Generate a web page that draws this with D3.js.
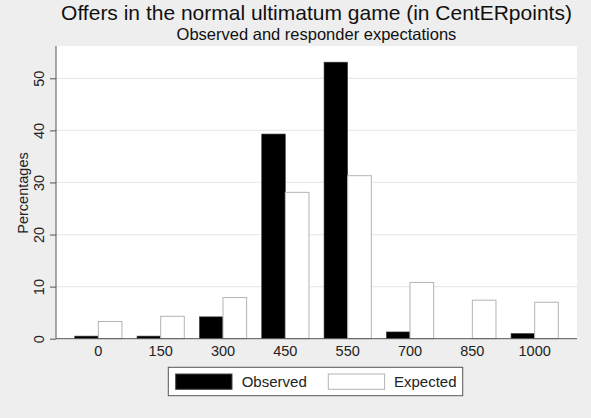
<!DOCTYPE html>
<html><head><meta charset="utf-8">
<script src="https://cdn.jsdelivr.net/npm/d3@7"></script>
<style>body{margin:0;background:#eeeeee}svg{display:block}text{font-family:"Liberation Sans",Arial,sans-serif}</style>
</head><body><svg id="c" width="591" height="418"></svg>
<script>
const categories = ["0","150","300","450","550","700","850","1000"];
const observed = [0.5, 0.5, 4.2, 39.3, 53.1, 1.3, 0, 1.0];
const expected = [3.3, 4.3, 7.9, 28.1, 31.3, 10.8, 7.4, 7.0];
const yTicks = [0,10,20,30,40,50];
const seriesNames = ["Observed","Expected"];

const svg = d3.select("#c");
svg.append("rect").attr("width",591).attr("height",418).attr("fill","#eeeeee");
const L=56, R=577, T=46, B=338.7;
svg.append("rect").attr("x",L).attr("y",T).attr("width",R-L).attr("height",B-T).attr("fill","#fff");

const x = d3.scaleBand().domain(categories).range([L,R]).paddingInner(0.242).paddingOuter(0.3);
const y = d3.scaleLinear().domain([0,50]).range([B,78.3]);

// grid
svg.append("g").selectAll("line").data(yTicks.filter(d=>d>0)).join("line")
  .attr("x1",L).attr("x2",R).attr("y1",d=>y(d)).attr("y2",d=>y(d))
  .attr("stroke","#eaeaea").attr("stroke-width",1.2);

const bw = x.bandwidth()/2;
const g = svg.append("g");
g.selectAll("rect.o").data(categories).join("rect").attr("class","o")
  .attr("x",d=>x(d)).attr("width",bw)
  .attr("y",(d,i)=>y(observed[i])).attr("height",(d,i)=>B-y(observed[i]))
  .attr("fill","#000").attr("stroke","#444").attr("stroke-width",0.6);
g.selectAll("rect.e").data(categories).join("rect").attr("class","e")
  .attr("x",d=>x(d)+bw).attr("width",bw)
  .attr("y",(d,i)=>y(expected[i])).attr("height",(d,i)=>B-y(expected[i]))
  .attr("fill","#fff").attr("stroke","#b4b4b4").attr("stroke-width",1);

// axes
const ya = svg.append("g").attr("transform",`translate(${L},0)`)
  .call(d3.axisLeft(y).tickValues(yTicks).tickSize(6).tickPadding(4));
ya.select(".domain").attr("stroke","#555").attr("d",`M-0,${T}V${B}`);
ya.selectAll(".tick line").attr("stroke","#555");
ya.selectAll(".tick text").attr("font-size",14.5).attr("fill","#222").attr("text-anchor","middle")
  .attr("transform","translate(-12.5,0) rotate(-90)").attr("x",0).attr("y",0).attr("dy",0);

const xa = svg.append("g").attr("transform",`translate(0,${B})`)
  .call(d3.axisBottom(x).tickSize(0).tickPadding(0));
xa.select(".domain").attr("stroke","#555").attr("d",`M${L},0H${R}`);
xa.selectAll(".tick text").attr("font-size",14.5).attr("fill","#222").attr("dy",0).attr("y",17);

svg.append("text").attr("transform","translate(27.5,193) rotate(-90)").attr("text-anchor","middle")
  .attr("font-size",14.5).attr("fill","#222").text("Percentages");

svg.append("text").attr("x",316.5).attr("y",19.5).attr("text-anchor","middle").attr("font-size",21).attr("fill","#111")
  .text("Offers in the normal ultimatum game (in CentERpoints)");
svg.append("text").attr("x",316.5).attr("y",40).attr("text-anchor","middle").attr("font-size",16.5).attr("fill","#111")
  .text("Observed and responder expectations");

// legend
const lg = svg.append("g");
lg.append("rect").attr("x",168.3).attr("y",367.3).attr("width",294.4).attr("height",28.4).attr("fill","#fff").attr("stroke","#555").attr("stroke-width",1);
const keyX=[175.7,328.3], txtX=[241.7,394];
seriesNames.forEach((s,i)=>{
  lg.append("rect").attr("x",keyX[i]).attr("y",374).attr("width",56.3).attr("height",15.3)
    .attr("fill",i?"#fff":"#000").attr("stroke",i?"#b4b4b4":"#444").attr("stroke-width",1);
  lg.append("text").attr("x",txtX[i]).attr("y",387).attr("font-size",15).attr("fill","#222").text(s);
});
</script></body></html>
